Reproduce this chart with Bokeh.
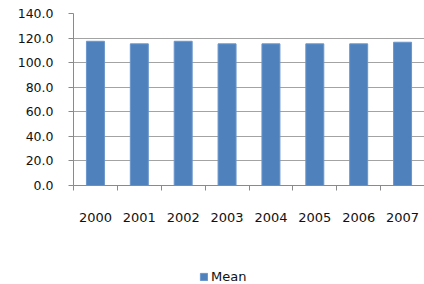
from bokeh.plotting import figure
from bokeh.layouts import column
from bokeh.models import Range1d, FixedTicker, NumeralTickFormatter, Legend, LegendItem, ColumnDataSource
from bokeh.embed import file_html
from bokeh.resources import INLINE

years = ["2000", "2001", "2002", "2003", "2004", "2005", "2006", "2007"]
mean_values = [117.4, 115.3, 117.4, 115.3, 115.3, 115.3, 115.3, 116.6]
y_ticks = [0, 20, 40, 60, 80, 100, 120, 140]
series_name = "Mean"

BAR_FILL = "#4f81bd"
BAR_LINE = "#6a96cc"
FONT = "DejaVu Sans"
GRID = "#a3a3a3"
AXIS = "#8a8a8a"

xs = [i + 0.5 for i in range(len(years))]
src = ColumnDataSource(dict(x=xs, top=mean_values))

p = figure(frame_width=351, frame_height=172, output_backend="svg", toolbar_location=None,
           x_range=Range1d(0, len(years)), y_range=Range1d(0, 140),
           min_border_left=73, min_border_right=0, min_border_top=13, min_border_bottom=55)
p.outline_line_color = None
p.background_fill_color = "white"
p.border_fill_color = "#ffffff"

r = p.vbar(x="x", top="top", width=0.41, source=src, fill_color=BAR_FILL, line_color=BAR_LINE, line_width=1)

# x axis
p.xaxis.ticker = FixedTicker(ticks=xs, minor_ticks=list(range(len(years) + 1)))
p.xaxis.major_label_overrides = {x: y for x, y in zip(xs, years)}
p.xaxis.major_tick_out = 0
p.xaxis.major_tick_in = 0
p.xaxis.minor_tick_out = 5
p.xaxis.minor_tick_in = 0
p.xaxis.minor_tick_line_color = AXIS
p.xaxis.axis_line_color = AXIS
p.xaxis.major_label_standoff = 22
p.xaxis.major_label_text_font = FONT
p.xaxis.major_label_text_font_size = "13px"
p.xaxis.major_label_text_color = "#111111"
p.xgrid.grid_line_color = None

# y axis
p.yaxis.ticker = FixedTicker(ticks=y_ticks)
p.yaxis.formatter = NumeralTickFormatter(format="0.0")
p.yaxis.major_tick_out = 5
p.yaxis.major_tick_in = 0
p.yaxis.minor_tick_line_color = None
p.yaxis.major_tick_line_color = AXIS
p.yaxis.axis_line_color = AXIS
p.yaxis.major_label_standoff = 15
p.yaxis.major_label_text_font = FONT
p.yaxis.major_label_text_font_size = "12.5px"
p.yaxis.major_label_text_color = "#111111"
p.ygrid.grid_line_color = GRID
p.ygrid.ticker = FixedTicker(ticks=y_ticks)

# legend strip below the chart (its ranges keep the series' bars out of view)
leg = figure(width=424, height=44, output_backend="svg", toolbar_location=None,
             x_range=Range1d(-2, -1), y_range=Range1d(0, 1),
             x_axis_location=None, y_axis_location=None,
             min_border_left=0, min_border_right=0, min_border_top=0, min_border_bottom=0)
leg.outline_line_color = None
leg.grid.grid_line_color = None
leg.border_fill_color = "#ffffff"
lr = leg.vbar(x="x", top="top", width=0.41, source=src, fill_color=BAR_FILL, line_color=BAR_LINE, line_width=1)

legend = Legend(items=[LegendItem(label=series_name, renderers=[lr])],
                location=(126, 0), orientation="horizontal",
                margin=0, padding=1, spacing=0,
                glyph_width=9, glyph_height=9, label_standoff=3,
                label_text_font=FONT, label_text_font_size="13px", label_text_color="#111111",
                border_line_color=None, background_fill_alpha=0)
leg.add_layout(legend, "center")

layout = column(p, leg, spacing=0)
open("out.html", "w").write(file_html(layout, INLINE))
